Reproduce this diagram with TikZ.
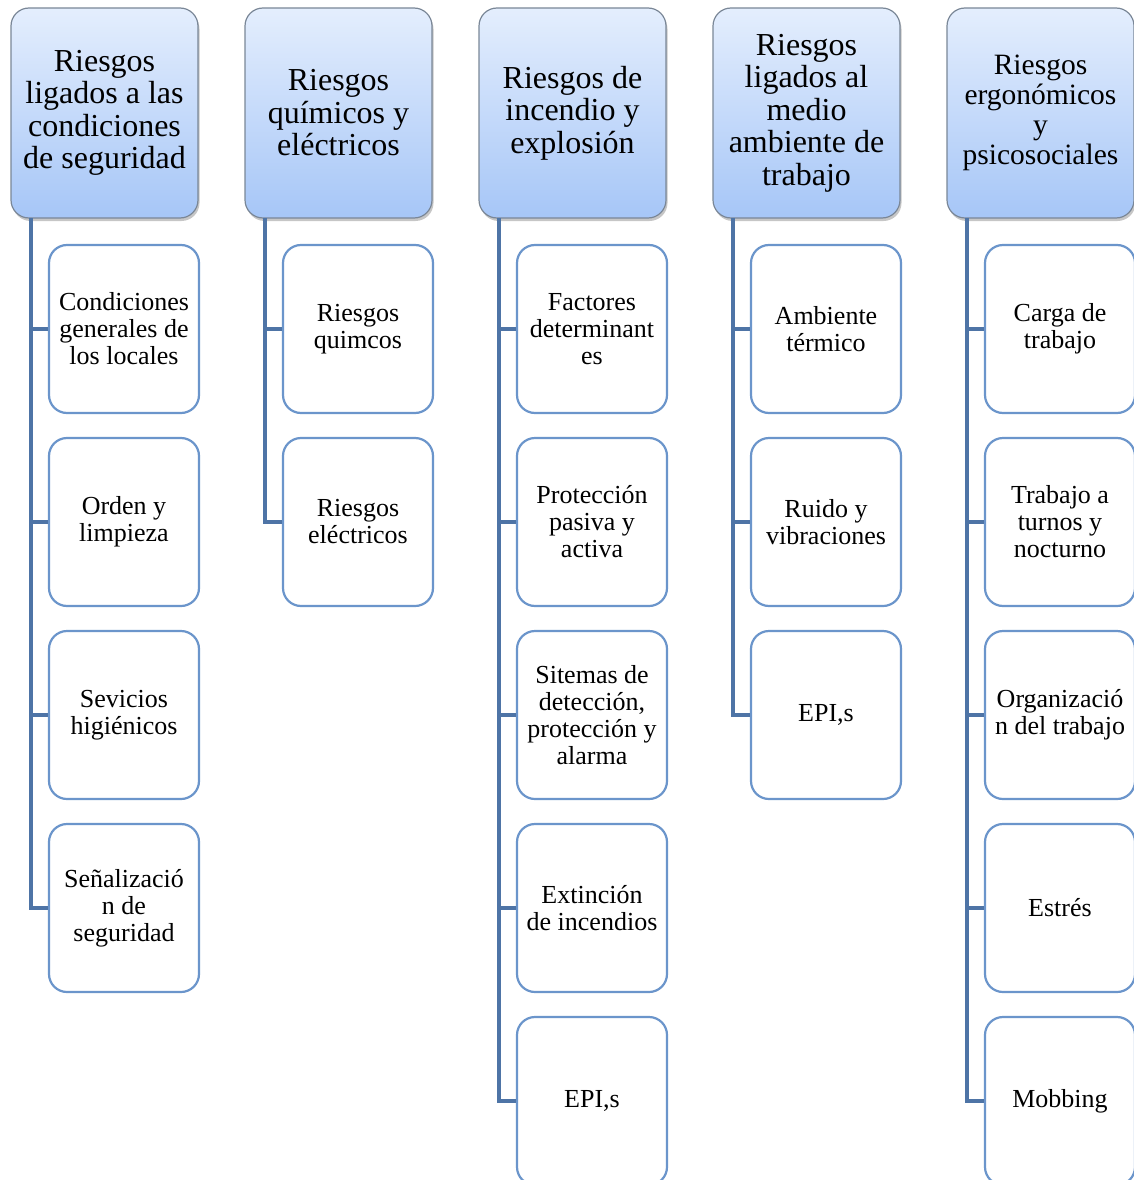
\documentclass[tikz,border=0pt]{standalone}
\usepackage{fontspec}
\setmainfont{LiberationSerif}[Extension=.ttf, UprightFont=*-Regular, BoldFont=*-Bold, ItalicFont=*-Italic, BoldItalicFont=*-BoldItalic]
\usetikzlibrary{shadows}

\definecolor{trunk}{HTML}{4E74A6}
\definecolor{itemline}{HTML}{6B95CB}
\definecolor{headtop}{HTML}{E4EEFD}
\definecolor{headbot}{HTML}{A6C6F7}
\definecolor{headline}{HTML}{7A8797}

\tikzset{
  headbox/.style={draw=headline, line width=1.2pt, rounded corners=18pt,
    top color=headtop, bottom color=headbot,
    minimum width=187pt, minimum height=210pt, align=center, inner sep=0pt,
    font=\fontsize{32}{32.5}\selectfont,
    drop shadow={shadow xshift=1.5pt, shadow yshift=-3pt, opacity=0.45}},
  itembox/.style={draw=itemline, line width=2.2pt, fill=white, rounded corners=18pt,
    minimum width=150pt, minimum height=168pt, align=center, inner sep=0pt,
    font=\fontsize{26}{27}\selectfont},
  link/.style={draw=trunk, line width=4.5pt}
}

\begin{document}
\begin{tikzpicture}[x=1pt, y=-1pt]
\useasboundingbox (0,0) rectangle (1134,1180);
\clip (0,0) rectangle (1134,1180);

% column heads
\node[headbox] (h1) at (104.5,113) {Riesgos\\ligados a las\\condiciones\\de seguridad};
\node[headbox] (h2) at (338.5,113) {Riesgos\\químicos y\\eléctricos};
\node[headbox] (h3) at (572.5,113) {Riesgos de\\incendio y\\explosión};
\node[headbox] (h4) at (806.5,113) {Riesgos\\ligados al\\medio\\ambiente de\\trabajo};
\node[headbox, font=\fontsize{29.5}{30}\selectfont] (h5) at (1040.5,113) {Riesgos\\ergonómicos\\y\\psicosociales};

% trunk start points under each head
\coordinate (t1) at (31,218);
\coordinate (t2) at (265,218);
\coordinate (t3) at (499,218);
\coordinate (t4) at (733,218);
\coordinate (t5) at (967,218);

% column 1
\node[itembox] (c11) at (124,329) {Condiciones\\generales de\\los locales};
\node[itembox] (c12) at (124,522) {Orden y\\limpieza};
\node[itembox] (c13) at (124,715) {Sevicios\\higiénicos};
\node[itembox] (c14) at (124,908) {Señalizació\\n de\\seguridad};

% column 2
\node[itembox] (c21) at (358,329) {Riesgos\\quimcos};
\node[itembox] (c22) at (358,522) {Riesgos\\eléctricos};

% column 3
\node[itembox] (c31) at (592,329) {Factores\\determinant\\es};
\node[itembox] (c32) at (592,522) {Protección\\pasiva y\\activa};
\node[itembox] (c33) at (592,715) {Sitemas de\\detección,\\protección y\\alarma};
\node[itembox] (c34) at (592,908) {Extinción\\de incendios};
\node[itembox] (c35) at (592,1101) {EPI,s};

% column 4
\node[itembox] (c41) at (826,329) {Ambiente\\térmico};
\node[itembox] (c42) at (826,522) {Ruido y\\vibraciones};
\node[itembox] (c43) at (826,715) {EPI,s};

% column 5
\node[itembox] (c51) at (1060,329) {Carga de\\trabajo};
\node[itembox] (c52) at (1060,522) {Trabajo a\\turnos y\\nocturno};
\node[itembox] (c53) at (1060,715) {Organizació\\n del trabajo};
\node[itembox] (c54) at (1060,908) {Estrés};
\node[itembox] (c55) at (1060,1101) {Mobbing};

% connectors: trunk down to the last item, branches to the others
\draw[link] (t1) |- (c14.west);
\foreach \n in {c11,c12,c13} \draw[link] (t1 |- \n.west) -- (\n.west);
\draw[link] (t2) |- (c22.west);
\draw[link] (t2 |- c21.west) -- (c21.west);
\draw[link] (t3) |- (c35.west);
\foreach \n in {c31,c32,c33,c34} \draw[link] (t3 |- \n.west) -- (\n.west);
\draw[link] (t4) |- (c43.west);
\foreach \n in {c41,c42} \draw[link] (t4 |- \n.west) -- (\n.west);
\draw[link] (t5) |- (c55.west);
\foreach \n in {c51,c52,c53,c54} \draw[link] (t5 |- \n.west) -- (\n.west);
\end{tikzpicture}
\end{document}
